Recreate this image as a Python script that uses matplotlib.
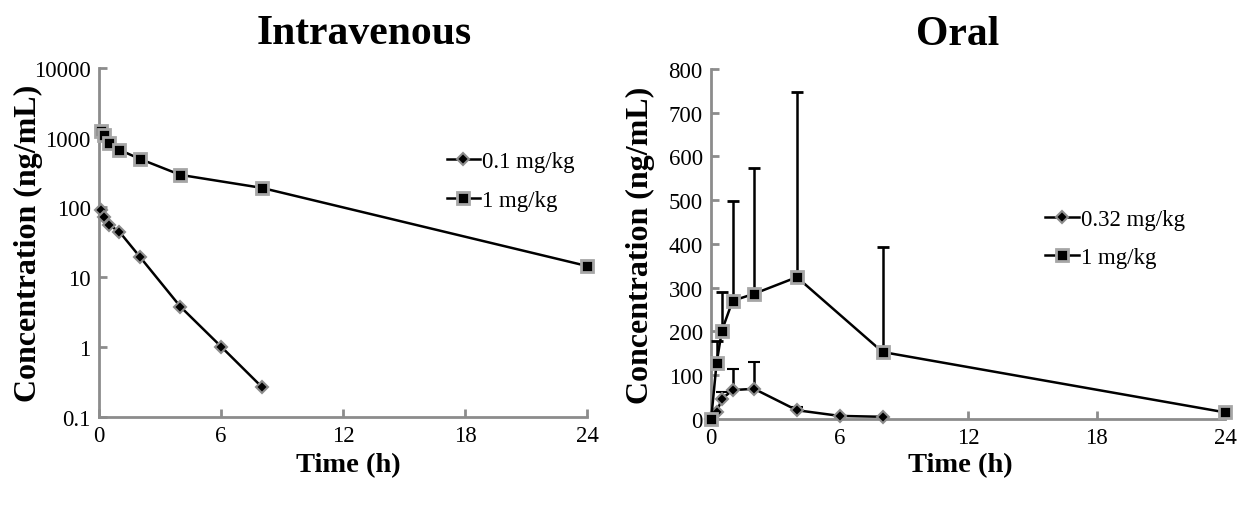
import numpy as np
import matplotlib.pyplot as plt
from matplotlib.lines import Line2D
from matplotlib.ticker import FixedLocator, FuncFormatter

plt.rcParams['font.family'] = ['Liberation Serif', 'DejaVu Serif']

# Intravenous data
iv_time_low = [0.083, 0.25, 0.5, 1, 2, 4, 6, 8]
iv_conc_low = [93, 74, 56, 45, 19.8, 3.8, 1.02, 0.27]
iv_time_high = [0.083, 0.25, 0.5, 1, 2, 4, 8, 24]
iv_conc_high = [1250, 1100, 840, 670, 497, 293, 191, 14.5]

# Oral data (mean, upper SD)
po_time_low = [0, 0.25, 0.5, 1, 2, 4, 6, 8]
po_conc_low = [0, 15, 46, 66, 69, 20, 7, 5]
po_sd_low = [0, 0, 16, 48, 62, 8, 0, 0]
po_time_high = [0, 0.25, 0.5, 1, 2, 4, 8, 24]
po_conc_high = [0, 127, 202, 270, 286, 324, 153, 15]
po_sd_high = [0, 51, 87, 227, 288, 422, 239, 0]

iv_labels = ['0.1 mg/kg', '1 mg/kg']
po_labels = ['0.32 mg/kg', '1 mg/kg']

fig = plt.figure(figsize=(12.39, 5.06), dpi=100)
ax1 = fig.add_axes([0.0799, 0.174, 0.394, 0.690])
ax2 = fig.add_axes([0.574, 0.170, 0.415, 0.692])

grey = '#8c8c8c'
dia = dict(marker='D', markersize=6, markerfacecolor='black',
           markeredgecolor=grey, markeredgewidth=1.5)
sq = dict(marker='s', markersize=9, markerfacecolor='black',
          markeredgecolor='#a6a6a6', markeredgewidth=2)
legend_handles = [Line2D([], [], color='black', lw=1.8, **dia),
                  Line2D([], [], color='black', lw=1.8, **sq)]

# Intravenous panel
ax1.plot(iv_time_low, iv_conc_low, color='black', lw=1.8, **dia)
ax1.plot(iv_time_high, iv_conc_high, color='black', lw=1.8, **sq)
ax1.set_yscale('log')
ax1.set_ylim(0.1, 10000)
ax1.yaxis.set_major_locator(FixedLocator([0.1, 1, 10, 100, 1000, 10000]))
ax1.yaxis.set_minor_locator(FixedLocator([]))
ax1.yaxis.set_major_formatter(FuncFormatter(lambda v, p: '%g' % v))
ax1.set_title('Intravenous', fontsize=30, fontweight='bold', x=0.543, pad=18)
ax1.legend(legend_handles, iv_labels, loc='upper left', bbox_to_anchor=(0.67, 0.82),
           frameon=False, fontsize=16.5, handlelength=1.45, handletextpad=0.1,
           labelspacing=0.75)

# Oral panel
ax2.errorbar(po_time_low, po_conc_low, yerr=[np.zeros(len(po_sd_low)), po_sd_low],
             color='black', lw=1.8, elinewidth=1.8, capsize=4, capthick=2, **dia)
ax2.errorbar(po_time_high, po_conc_high, yerr=[np.zeros(len(po_sd_high)), po_sd_high],
             color='black', lw=1.8, elinewidth=1.8, capsize=4, capthick=2, **sq)
ax2.set_ylim(0, 800)
ax2.set_yticks(range(0, 801, 100))
ax2.set_title('Oral', fontsize=30, fontweight='bold', x=0.479, pad=18)
ax2.legend(legend_handles, po_labels, loc='upper left', bbox_to_anchor=(0.61, 0.66),
           frameon=False, fontsize=16.5, handlelength=1.45, handletextpad=0.1,
           labelspacing=0.75)

for ax, xl, yl in ((ax1, (0.51, -0.1375), (-0.145, 0.5)),
                   (ax2, (0.484, -0.131), (-0.138, 0.5))):
    ax.set_xlim(0, 24)
    ax.set_xticks([0, 6, 12, 18, 24])
    ax.set_xlabel('Time (h)', fontsize=20.5, fontweight='bold')
    ax.set_ylabel('Concentration (ng/mL)', fontsize=23, fontweight='bold')
    ax.xaxis.set_label_coords(*xl)
    ax.yaxis.set_label_coords(*yl)
    ax.xaxis.label.set_va('center')
    ax.yaxis.label.set_va('center')
    for s in ('top', 'right'):
        ax.spines[s].set_visible(False)
    for s in ('left', 'bottom'):
        ax.spines[s].set_color(grey)
        ax.spines[s].set_linewidth(2)
        ax.spines[s].set_zorder(0)
    ax.tick_params(direction='in', length=6, width=2, color=grey, labelsize=16.5, pad=6)
    for c in ax.get_children():
        if hasattr(c, 'set_clip_on'):
            c.set_clip_on(False)

fig.savefig('out.png', dpi=100)
